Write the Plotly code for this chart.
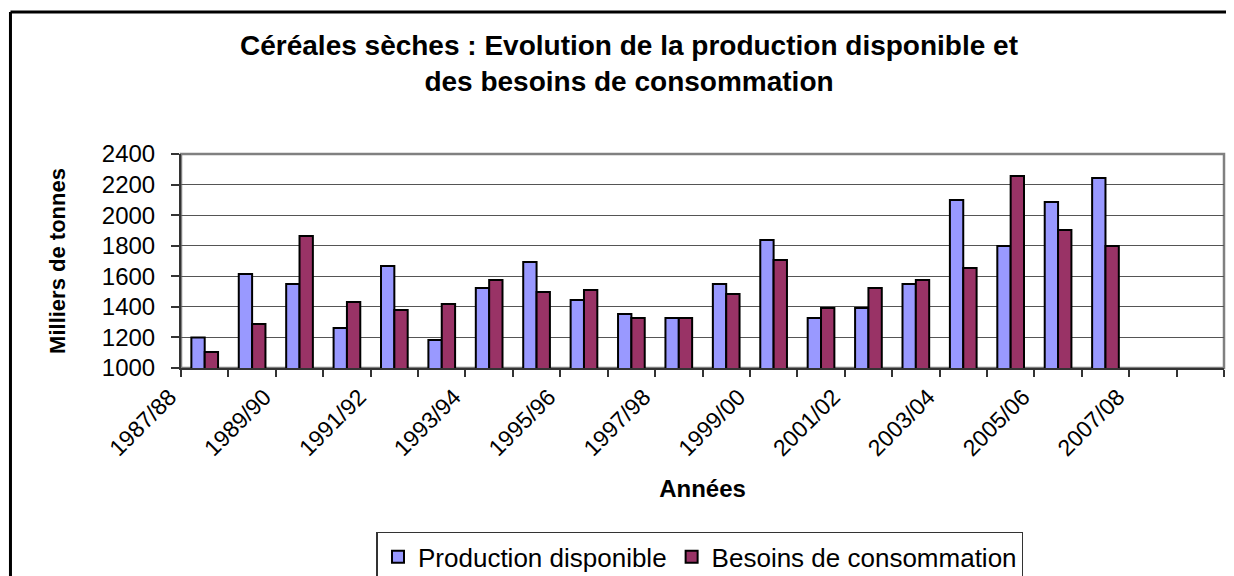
import plotly.graph_objects as go

categories = ["1987/88", "1988/89", "1989/90", "1990/91", "1991/92", "1992/93",
              "1993/94", "1994/95", "1995/96", "1996/97", "1997/98", "1998/99",
              "1999/00", "2000/01", "2001/02", "2002/03", "2003/04", "2004/05",
              "2005/06", "2006/07", "2007/08", "2008/09"]
production = [1200, 1615, 1550, 1262, 1667, 1183, 1523, 1694, 1445, 1353,
              1327, 1550, 1837, 1327, 1393, 1550, 2099, 1798, 2086, 2243]
besoins = [1105, 1288, 1864, 1432, 1380, 1419, 1576, 1497, 1510, 1327,
           1327, 1484, 1707, 1393, 1523, 1576, 1654, 2256, 1903, 1798]
tick_labels = categories[::2]
y_ticks = [1000, 1200, 1400, 1600, 1800, 2000, 2200, 2400]

FONT = "Liberation Sans, Arial, sans-serif"
n = len(categories)
W, H = 1226, 568          # page body has an 8px margin
L, T = 173, 146
PW, PH = 1043, 214

fig = go.Figure()
fig.add_trace(go.Bar(x=categories[:len(production)], y=production, name="Production disponible",
                     marker=dict(color="#9999FF", line=dict(color="black", width=2))))
fig.add_trace(go.Bar(x=categories[:len(besoins)], y=besoins, name="Besoins de consommation",
                     marker=dict(color="#993366", line=dict(color="black", width=2))))
# register all categories on both category axes
fig.add_trace(go.Scatter(x=categories, y=[None] * n, mode="none", showlegend=False, hoverinfo="skip"))
fig.add_trace(go.Scatter(x=categories, y=[None] * n, xaxis="x2", mode="none", showlegend=False, hoverinfo="skip"))

fig.update_layout(
    width=W, height=H,
    margin=dict(l=L, r=W - L - PW, t=T, b=H - T - PH, autoexpand=False),
    paper_bgcolor="white", plot_bgcolor="white",
    font=dict(family=FONT, color="black"),
    barmode="group", bargap=0.437, bargroupgap=0,
    title=dict(text="Céréales sèches : Evolution de la production disponible et<br>des besoins de consommation",
               x=621 / W, xref="container", xanchor="center",
               y=1 - 46.5 / H, yref="container", yanchor="middle",
               font=dict(family=FONT, size=28, color="black", weight="bold")),
    xaxis=dict(type="category", categoryorder="array", categoryarray=categories,
               range=[-0.5, n - 0.5], showticklabels=False, tickson="boundaries",
               ticks="outside", ticklen=7, tickwidth=1.5, tickcolor="#333333",
               showline=True, linecolor="#333333", linewidth=2, showgrid=False,
               zeroline=False, fixedrange=True),
    xaxis2=dict(type="category", categoryorder="array", categoryarray=categories,
                overlaying="x", anchor="y", side="bottom", range=[-0.5, n - 0.5],
                tickmode="array", tickvals=tick_labels, ticktext=tick_labels,
                tickangle=-45, ticks="", ticklabelstandoff=10, ticklabelshift=-35,
                showline=False, showgrid=False, zeroline=False,
                tickfont=dict(family=FONT, size=23, color="black"),
                title=dict(text="Années", standoff=20,
                           font=dict(family=FONT, size=24, color="black", weight="bold")),
                automargin=False),
    yaxis=dict(range=[1000, 2400], tickmode="array", tickvals=y_ticks,
               ticks="outside", ticklen=8, tickwidth=1.5, tickcolor="#333333",
               ticklabelstandoff=11,
               showline=True, linecolor="#333333", linewidth=2,
               showgrid=True, gridcolor="#555555", gridwidth=1, zeroline=False,
               tickfont=dict(family=FONT, size=24, color="black"),
               title=dict(text="Milliers de tonnes", standoff=30,
                          font=dict(family=FONT, size=22, color="black", weight="bold")),
               automargin=False),
    legend=dict(orientation="h", x=0.4976, xanchor="center", y=-0.766, yanchor="top",
                bordercolor="#333333", borderwidth=1.5, bgcolor="white",
                font=dict(family=FONT, size=26, color="black"),
                traceorder="normal"),
    shapes=[
        dict(type="rect", xref="paper", yref="paper", x0=0, x1=1, y0=0, y1=1,
             line=dict(color="#808080", width=2.5), layer="below"),
        dict(type="line", xref="paper", yref="paper", x0=-0.1635, x1=-0.1635, y0=-1.1, y1=1.6636,
             line=dict(color="black", width=3)),
        dict(type="line", xref="paper", yref="paper", x0=-0.1635, x1=1.1, y0=1.6636, y1=1.6636,
             line=dict(color="black", width=3)),
    ],
)

fig.write_html("out.html")
